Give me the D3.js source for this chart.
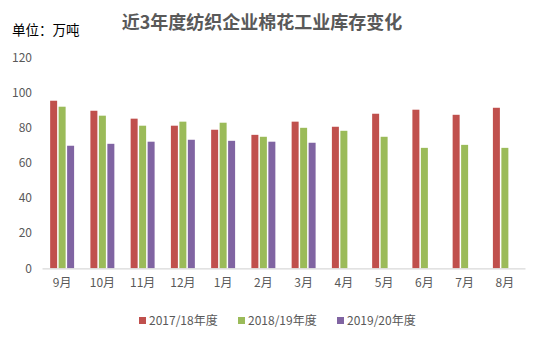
<!DOCTYPE html>
<html><head><meta charset="utf-8">
<script src="https://cdn.jsdelivr.net/npm/d3@7"></script>
<style>body{margin:0;background:#fff;} svg{display:block;}</style>
</head><body>
<svg id="c" width="541" height="342"></svg>
<script>
const categories = ["9月","10月","11月","12月","1月","2月","3月","4月","5月","6月","7月","8月"];
const seriesNames = ["2017/18年度","2018/19年度","2019/20年度"];
const s2017 = [95.3,89.6,85.1,81.1,78.8,75.9,83.4,80.5,87.9,90.2,87.3,91.3];
const s2018 = [91.9,86.8,81.1,83.4,82.8,74.8,79.9,78.2,74.8,68.5,70.2,68.5];
const s2019 = [69.7,70.8,72.0,73.1,72.5,72.0,71.4,null,null,null,null,null];
const yTicks = [0,20,40,60,80,100,120];
const colors = ["#C0504D","#9BBB59","#8064A2"];

const svg = d3.select("#c");
const font = "'Microsoft YaHei','Noto Sans CJK SC',sans-serif";
const x = d3.scaleBand().domain(categories).range([42,525]);
const y = d3.scaleLinear().domain([0,120]).range([268.3,57.3]);
const inner = d3.scaleBand().domain(seriesNames).range([0, x.bandwidth()]).paddingInner(0.176).paddingOuter(0.96);

// title
svg.append("text").attr("x",262).attr("y",29).attr("text-anchor","middle")
  .attr("font-family",font).attr("font-size",18).attr("font-weight","bold").attr("fill","#595959")
  .text("近3年度纺织企业棉花工业库存变化");
svg.append("text").attr("x",12).attr("y",35)
  .attr("font-family",font).attr("font-size",13.5).attr("fill","#000")
  .text("单位：万吨");

// y axis
const ya = svg.append("g").attr("transform","translate(38,0)")
  .call(d3.axisLeft(y).tickValues(yTicks).tickSize(0).tickPadding(6));
ya.select(".domain").remove();
ya.selectAll("text").attr("font-family",font).attr("font-size",12).attr("fill","#595959");

// bars
const data = [s2017,s2018,s2019];
data.forEach((arr,si)=>{
  svg.append("g").selectAll("rect").data(categories.map((c,i)=>({c,v:arr[i]})).filter(d=>d.v!=null))
    .join("rect")
    .attr("x",d=>x(d.c)+inner(seriesNames[si]))
    .attr("width",inner.bandwidth())
    .attr("y",d=>y(d.v))
    .attr("height",d=>y(0)-y(d.v))
    .attr("fill",colors[si]);
});

// x axis
const xa = svg.append("g").attr("transform",`translate(0,${y(0)})`)
  .call(d3.axisBottom(x).tickSize(0).tickPadding(10));
xa.select(".domain").attr("stroke","#d9d9d9").attr("stroke-width",1.2);
xa.selectAll("text").attr("font-family",font).attr("font-size",12).attr("fill","#595959");

// legend
const legX = [139,238,337];
seriesNames.forEach((n,i)=>{
  svg.append("rect").attr("x",legX[i]).attr("y",317).attr("width",7).attr("height",7).attr("fill",colors[i]);
  svg.append("text").attr("x",legX[i]+10).attr("y",325)
    .attr("font-family",font).attr("font-size",12).attr("fill","#595959").text(n);
});
</script>
</body></html>
